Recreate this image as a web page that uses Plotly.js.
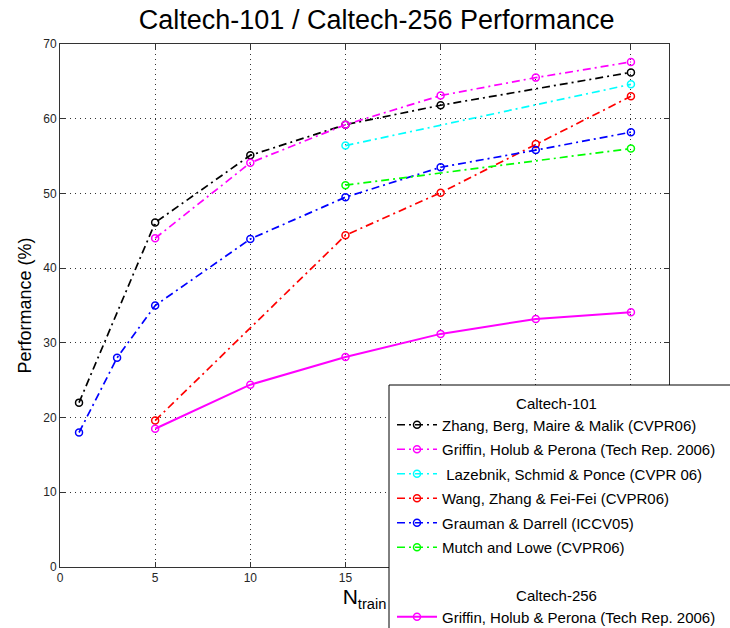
<!DOCTYPE html>
<html>
<head>
<meta charset="utf-8">
<script src="https://cdn.plot.ly/plotly-3.0.1.min.js"></script>
<style>html,body{margin:0;padding:0;background:#fff;}#chart{width:730px;height:628px;}</style>
</head>
<body>
<div id="chart"></div>
<script>
// Caltech-101 series
const xZhang = [1, 5, 10, 15, 20, 30];
const yZhang = [22.0, 46.1, 55.1, 59.2, 61.8, 66.2];
const xGriffin101 = [5, 10, 15, 20, 25, 30];
const yGriffin101 = [44.0, 54.1, 59.2, 63.1, 65.5, 67.6];
const xLazebnik = [15, 30];
const yLazebnik = [56.4, 64.6];
const xWang = [5, 15, 20, 25, 30];
const yWang = [19.6, 44.4, 50.1, 56.6, 63.0];
const xGrauman = [1, 3, 5, 10, 15, 20, 25, 30];
const yGrauman = [18.0, 28.0, 35.0, 43.9, 49.5, 53.5, 55.8, 58.2];
const xMutch = [15, 30];
const yMutch = [51.1, 56.0];
// Caltech-256 series
const xGriffin256 = [5, 10, 15, 20, 25, 30];
const yGriffin256 = [18.5, 24.4, 28.1, 31.2, 33.2, 34.1];

const names101 = [
  "Zhang, Berg, Maire &amp; Malik (CVPR06)",
  "Griffin, Holub &amp; Perona (Tech Rep. 2006)",
  " Lazebnik, Schmid &amp; Ponce (CVPR 06)",
  "Wang, Zhang &amp; Fei-Fei (CVPR06)",
  "Grauman &amp; Darrell (ICCV05)",
  "Mutch and Lowe (CVPR06)"
];
const name256 = "Griffin, Holub &amp; Perona (Tech Rep. 2006)";
const colors101 = ["#000000", "#ff00ff", "#00ffff", "#ff0000", "#0000ff", "#00ff00"];
const color256 = "#ff00ff";
const xs101 = [xZhang, xGriffin101, xLazebnik, xWang, xGrauman, xMutch];
const ys101 = [yZhang, yGriffin101, yLazebnik, yWang, yGrauman, yMutch];

const FONT = "Liberation Sans, Arial, Helvetica, sans-serif";
const dashDot = "8px,4px,2px,4px";

const traces = xs101.map((x, i) => ({
  x: x, y: ys101[i], name: names101[i], type: "scatter", mode: "lines+markers",
  line: {color: colors101[i], width: 1.7, dash: dashDot},
  marker: {symbol: "circle-open", size: 7, color: colors101[i], line: {width: 1.5}},
  legend: "legend", legendgroup: "g" + i
}));
traces.push({
  x: xGriffin256, y: yGriffin256, name: name256, type: "scatter", mode: "lines+markers",
  line: {color: color256, width: 2},
  marker: {symbol: "circle-open", size: 7, color: color256, line: {width: 1.5}},
  legend: "legend2", legendgroup: "h"
});

const plotL = 60, plotR = 669, plotT = 44, plotB = 567;
const W = 730, H = 628;
const pw = plotR - plotL, ph = plotB - plotT;
const boxLeft = (389 - plotL) / pw;
const boxTop = (plotB - 385) / ph;
const legLeft = (392 - plotL) / pw;

const axisCommon = {
  showline: true, mirror: "ticks", linecolor: "#333333", linewidth: 1,
  ticks: "inside", ticklen: 5, tickcolor: "#333333",
  showgrid: true, gridcolor: "#333333", gridwidth: 1, griddash: "1px,4px",
  zeroline: false, tickfont: {family: FONT, size: 12, color: "#262626"}
};

const layout = {
  width: W, height: H,
  margin: {l: plotL, r: W - plotR, t: plotT, b: H - plotB, autoexpand: false},
  paper_bgcolor: "#ffffff", plot_bgcolor: "#ffffff",
  font: {family: FONT, color: "#000000"},
  title: {text: "Caltech-101 / Caltech-256 Performance", font: {family: FONT, size: 27, color: "#000"},
          x: 0.52, xanchor: "center", y: 1 - 20 / H, yanchor: "middle", xref: "paper"},
  xaxis: Object.assign({}, axisCommon, {
    range: [0, 32], tickvals: [0, 5, 10, 15, 20, 25, 30],
    title: {text: "N<sub>train</sub>", font: {family: FONT, size: 21, color: "#000"}, standoff: 0}
  }),
  yaxis: Object.assign({}, axisCommon, {
    range: [0, 70], tickvals: [0, 10, 20, 30, 40, 50, 60, 70],
    title: {text: "Performance (%)", font: {family: FONT, size: 18, color: "#000"}, standoff: 6}
  }),
  showlegend: true,
  legend: {
    x: legLeft, xanchor: "left", y: boxTop - 4 / ph, yanchor: "top",
    bgcolor: "rgba(0,0,0,0)", borderwidth: 0,
    font: {family: FONT, size: 15, color: "#000"},
    title: {text: "Caltech-101", side: "top center", font: {family: FONT, size: 15, color: "#000"}},
    traceorder: "grouped", tracegroupgap: 2, itemwidth: 40
  },
  legend2: {
    x: legLeft, xanchor: "left", y: (plotB - 581) / ph, yanchor: "top",
    bgcolor: "rgba(0,0,0,0)", borderwidth: 0,
    font: {family: FONT, size: 15, color: "#000"},
    title: {text: "Caltech-256", side: "top center", font: {family: FONT, size: 15, color: "#000"}},
    itemwidth: 40
  },
  shapes: [{
    type: "rect", xref: "paper", yref: "paper", layer: "above",
    x0: boxLeft, x1: 1.3, y0: -0.3, y1: boxTop,
    fillcolor: "#ffffff", line: {color: "#000000", width: 1}
  }]
};

Plotly.newPlot("chart", traces, layout, {displayModeBar: false, staticPlot: true});
</script>
</body>
</html>
